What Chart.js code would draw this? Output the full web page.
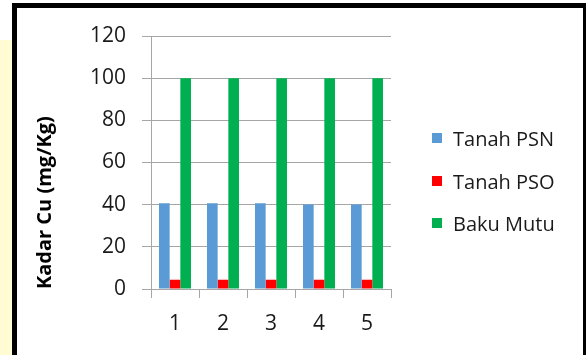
<!DOCTYPE html>
<html>
<head>
<meta charset="utf-8">
<script src="https://cdn.jsdelivr.net/npm/chart.js@4/dist/chart.umd.min.js"></script>
<style>
  html, body { margin: 0; padding: 0; width: 586px; height: 355px; overflow: hidden; background: #ffffff; }
  #strip { position: absolute; left: 0; top: 40px; width: 12px; height: 315px; background: #fffbd2; }
  #frame {
    position: absolute; left: 12px; top: 3px; width: 566px; height: 349px;
    background: #ffffff;
    border-left: 5px solid #000; border-top: 5px solid #000; border-right: 3px solid #000;
    border-bottom: 1px solid #c8c8c8;
  }
  #chart { position: absolute; left: 0; top: 0; }
  #legend { position: absolute; left: 432px; top: 0; font-family: "Open Sans", sans-serif; font-size: 20px; color: #1a1a1a; }
  .item { position: absolute; left: 0; white-space: nowrap; display: flex; align-items: center; height: 24px; }
  .sw { width: 10px; height: 10px; margin-right: 11px; }
</style>
</head>
<body>
<div id="strip"></div>
<div id="frame"></div>
<canvas id="chart" width="586" height="355"></canvas>
<div id="legend"></div>
<script>
// Cu content per sample point (mg/Kg)
const categories = ["1", "2", "3", "4", "5"];
const tanahPSN = [40.7, 40.7, 40.7, 40.1, 40.1];
const tanahPSO = [4.4, 4.4, 4.4, 4.4, 4.4];
const bakuMutu = [100, 100, 100, 100, 100];
const seriesNames = ["Tanah PSN", "Tanah PSO", "Baku Mutu"];
const seriesColors = ["#5b9bd5", "#ff0000", "#00b050"];
const yTicks = [0, 20, 40, 60, 80, 100, 120];

const FONT = "'Open Sans', sans-serif";
const TEXT = "#1a1a1a";
const GRID = "#a6a6a6";

const seriesData = [tanahPSN, tanahPSO, bakuMutu];
const datasets = seriesData.map((d, i) => ({
  label: seriesNames[i],
  data: d,
  backgroundColor: seriesColors[i],
  borderWidth: 0,
  categoryPercentage: 0.667,
  barPercentage: 1.0
}));

new Chart(document.getElementById("chart"), {
  type: "bar",
  data: { labels: categories, datasets },
  options: {
    responsive: false,
    animation: false,
    devicePixelRatio: 1,
    layout: { padding: { left: 29, right: 195, top: 36, bottom: 6 } },
    plugins: { legend: { display: false }, tooltip: { enabled: false } },
    scales: {
      x: {
        offset: true,
        grid: { offset: true, drawOnChartArea: false, drawTicks: true, tickLength: 9, color: GRID, lineWidth: 1 },
        border: { display: true, color: GRID, width: 1 },
        ticks: { color: TEXT, font: { family: FONT, size: 21 }, padding: 13 },
        afterFit: (s) => { s.height = 60; }
      },
      y: {
        min: 0, max: 120,
        afterBuildTicks: (s) => { s.ticks = yTicks.map(v => ({ value: v })); },
        grid: { color: GRID, lineWidth: 1, drawTicks: true, tickLength: 9 },
        border: { display: true, color: GRID, width: 1 },
        ticks: { color: TEXT, font: { family: FONT, size: 21 }, padding: 16 },
        title: {
          display: true, text: "Kadar Cu (mg/Kg)", align: "start",
          color: "#000000", font: { family: FONT, size: 20, weight: "bold" }, padding: { top: 4, bottom: 0 }
        },
        afterFit: (s) => { s.width = 122; }
      }
    }
  }
});

// legend entries built from the series names and colours
const legend = document.getElementById("legend");
const rowCentres = [138, 181, 223];
seriesNames.forEach((name, i) => {
  const row = document.createElement("div");
  row.className = "item";
  row.style.top = (rowCentres[i] - 12) + "px";
  const sw = document.createElement("span");
  sw.className = "sw";
  sw.style.background = seriesColors[i];
  const tx = document.createElement("span");
  tx.textContent = name;
  row.appendChild(sw);
  row.appendChild(tx);
  legend.appendChild(row);
});
</script>
</body>
</html>
